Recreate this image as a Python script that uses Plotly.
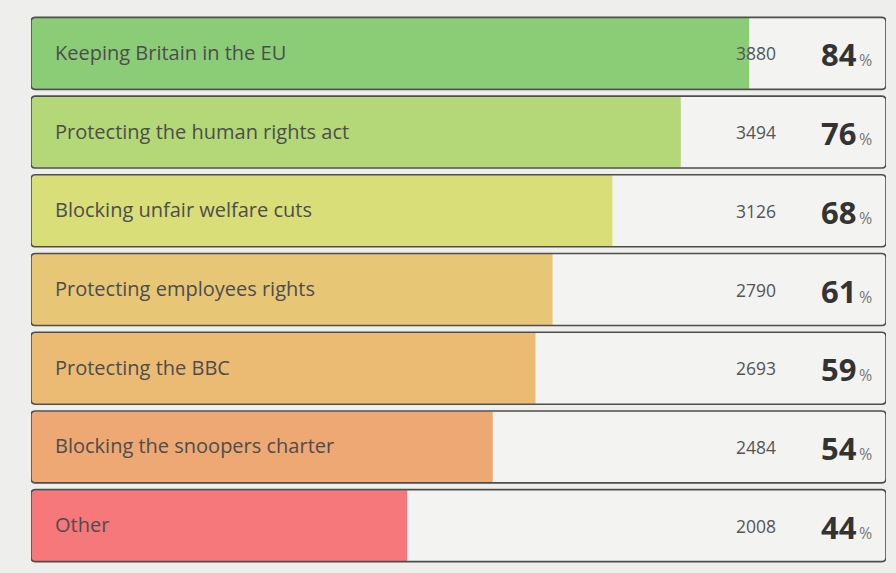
import plotly.graph_objects as go

categories = ["Keeping Britain in the EU", "Protecting the human rights act",
              "Blocking unfair welfare cuts", "Protecting employees rights",
              "Protecting the BBC", "Blocking the snoopers charter", "Other"]
counts = [3880, 3494, 3126, 2790, 2693, 2484, 2008]
percents = [84, 76, 68, 61, 59, 54, 44]
colors = ["#8acd76", "#b4d877", "#d9de78", "#e7c676", "#ebbb73", "#eea873", "#f7787a"]

FONT = "Open Sans"
fig = go.Figure()

# box backgrounds
fig.add_trace(go.Bar(y=categories, x=[100] * len(categories), orientation="h",
                     width=0.9, marker=dict(color="#f3f3f2", line=dict(width=0)),
                     hoverinfo="skip", showlegend=False))
# colored bars
fig.add_trace(go.Bar(y=categories, x=percents, orientation="h", width=0.9,
                     marker=dict(color=colors, line=dict(width=0), cornerradius=4),
                     hoverinfo="skip", showlegend=False))

shapes = []
h = 0.457
rx, ry = 0.5, 0.055
for i, _ in enumerate(categories):
    y0, y1 = i - h, i + h
    x0, x1 = 0, 100
    path = (f"M {x0+rx},{y0} L {x1-rx},{y0} Q {x1},{y0} {x1},{y0+ry} "
            f"L {x1},{y1-ry} Q {x1},{y1} {x1-rx},{y1} L {x0+rx},{y1} "
            f"Q {x0},{y1} {x0},{y1-ry} L {x0},{y0+ry} Q {x0},{y0} {x0+rx},{y0} Z")
    shapes.append(dict(type="path", path=path, xref="x", yref="y",
                       line=dict(color="#4d4d4d", width=1.6), layer="above"))

annotations = []
for i, (c, n, p) in enumerate(zip(categories, counts, percents)):
    annotations.append(dict(x=2.6, y=c, xref="x", yref="y", text=c, showarrow=False,
                            xanchor="left", yshift=1,
                            font=dict(family=FONT, size=20, color="#4d4d4d")))
    annotations.append(dict(x=87.4, y=c, xref="x", yref="y", text=str(n), showarrow=False,
                            xanchor="right", font=dict(family=FONT, size=17.5, color="#555555")))
    annotations.append(dict(x=98.6, y=c, xref="x", yref="y",
                            text=f"<b>{p}</b><span style='font-size:16px;color:#777'>\u2009%</span>",
                            showarrow=False, xanchor="right", yshift=-1,
                            font=dict(family=FONT, size=31, color="#333333")))

fig.update_layout(
    width=896, height=573,
    margin=dict(l=31, r=10, t=14, b=8),
    barmode="overlay",
    paper_bgcolor="#eeeeec", plot_bgcolor="#eeeeec",
    xaxis=dict(range=[0, 100], visible=False, fixedrange=True),
    yaxis=dict(visible=False, autorange="reversed", fixedrange=True),
    shapes=shapes, annotations=annotations, showlegend=False,
)
fig.write_html("out.html", config={"displayModeBar": False},
               post_script="document.body.style.margin='0';document.body.style.overflow='hidden';")
